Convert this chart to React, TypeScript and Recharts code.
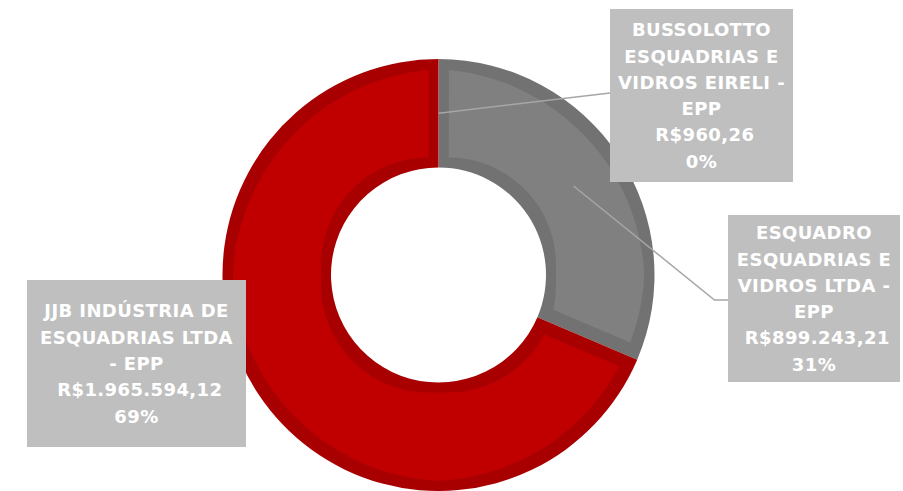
import { PieChart, Pie, Cell } from "recharts";

const companies = [
  "BUSSOLOTTO ESQUADRIAS E VIDROS EIRELI - EPP",
  "ESQUADRO ESQUADRIAS E VIDROS LTDA - EPP",
  "JJB INDÚSTRIA DE ESQUADRIAS LTDA - EPP",
];
const amounts = [960.26, 899243.21, 1965594.12];
// name broken into lines the way the original label wraps it
const nameLines = [
  ["BUSSOLOTTO", "ESQUADRIAS E", "VIDROS EIRELI -", "EPP"],
  ["ESQUADRO", "ESQUADRIAS E", "VIDROS LTDA -", "EPP"],
  ["JJB INDÚSTRIA DE", "ESQUADRIAS LTDA", "- EPP"],
];

const fillColors = ["#a5a5a5", "#808080", "#c00000"];
const borderColors = ["#8c8c8c", "#727272", "#a80000"];

const data = companies.map((name, i) => ({ name, value: amounts[i] }));

// label boxes, relative to the pie centre
const boxes = [
  { dx: 171.5, dy: -266, w: 183, h: 173, line: [[171.5, -182]] },
  { dx: 289.5, dy: -60, w: 172, h: 167, line: [[276, 25], [289.5, 25]] },
  { dx: -411.5, dy: 5, w: 219, h: 167, line: [] as number[][] },
];

const RAD = Math.PI / 180;
const LINE_H = 26.3;

function brl(v: number) {
  const [int, dec] = v.toFixed(2).split(".");
  return "\u00a0R$" + int.replace(/\B(?=(\d{3})+(?!\d))/g, ".") + "," + dec;
}

function renderLabel(props: any) {
  const { cx, cy, midAngle, innerRadius, outerRadius, index, percent, value } = props;
  const b = boxes[index];
  const r = (innerRadius + outerRadius) / 2;
  const sx = cx + r * Math.cos(-midAngle * RAD);
  const sy = cy + r * Math.sin(-midAngle * RAD);
  const pts = [[sx, sy], ...b.line.map(([x, y]) => [cx + x, cy + y])];
  const lines = [...nameLines[index], brl(value), Math.round(percent * 100) + "%"];
  const bx = cx + b.dx;
  const by = cy + b.dy;
  const first = by + b.h / 2 - ((lines.length - 1) * LINE_H) / 2 + 6.5;
  return (
    <g key={"lbl-" + index}>
      {pts.length > 1 && (
        <polyline
          points={pts.map((p) => p.join(",")).join(" ")}
          fill="none"
          stroke="#a6a6a6"
          strokeWidth={1.5}
        />
      )}
      <rect x={bx} y={by} width={b.w} height={b.h} fill="#bfbfbf" />
      {lines.map((t, k) => (
        <text
          key={k}
          x={bx + b.w / 2}
          y={first + k * LINE_H}
          textAnchor="middle"
          fill="#ffffff"
          fontFamily="'DejaVu Sans', sans-serif"
          fontWeight={700}
          fontSize={18}
          letterSpacing={0.4}
        >
          {t}
        </text>
      ))}
    </g>
  );
}

export default function App() {
  return (
    <div style={{ position: "absolute", left: 0, top: 0, background: "#fff" }}>
      <PieChart width={903} height={491} margin={{ top: 0, right: 0, bottom: 0, left: 0 }}>
        <defs>
          <filter id="inset" x="-5%" y="-5%" width="110%" height="110%">
            <feMorphology operator="erode" radius={10} />
          </filter>
        </defs>
        <Pie
          data={data}
          dataKey="value"
          cx={438.5}
          cy={275}
          innerRadius={107.5}
          outerRadius={216}
          startAngle={90}
          endAngle={-270}
          stroke="none"
          labelLine={false}
          isAnimationActive={false}
        >
          {data.map((d, i) => (
            <Cell key={d.name} fill={borderColors[i]} />
          ))}
        </Pie>
        <Pie
          data={data}
          dataKey="value"
          cx={438.5}
          cy={275}
          innerRadius={107.5}
          outerRadius={216}
          startAngle={90}
          endAngle={-270}
          stroke="none"
          labelLine={false}
          label={renderLabel}
          isAnimationActive={false}
        >
          {data.map((d, i) => (
            <Cell key={d.name} fill={fillColors[i]} filter="url(#inset)" />
          ))}
        </Pie>
      </PieChart>
    </div>
  );
}
